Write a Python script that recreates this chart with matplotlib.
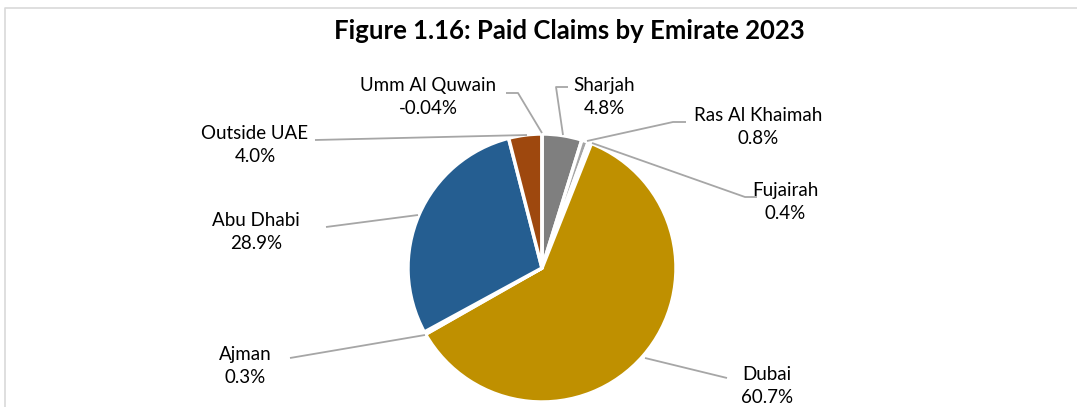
import matplotlib
matplotlib.use("Agg")
import matplotlib.pyplot as plt
import numpy as np

plt.rcParams['font.family'] = ['Lato', 'DejaVu Sans']

W, H = 1077, 407

title = "Figure 1.16: Paid Claims by Emirate 2023"
emirates = ["Sharjah", "Ras Al Khaimah", "Fujairah", "Dubai", "Ajman",
            "Abu Dhabi", "Outside UAE", "Umm Al Quwain"]
shares = [4.8, 0.8, 0.4, 60.7, 0.3, 28.9, 4.0, -0.04]
pct_labels = ["4.8%", "0.8%", "0.4%", "60.7%", "0.3%", "28.9%", "4.0%", "-0.04%"]
colors = ["#7F7F7F", "#A5A5A5", "#BDD7EE", "#BF9000", "#636363",
          "#255E91", "#9E480E", "#43682B"]

# label layout (pixel coords, y from top): text centre, leader polyline
label_pos = {
    "Sharjah": (604, 97, [(568, 87), (556, 87), (563, 135)]),
    "Ras Al Khaimah": (758, 127, [(686, 122), (673, 122), (587, 141)]),
    "Fujairah": (785, 202, [(757, 197), (745, 197), (592, 143)]),
    "Dubai": (767, 386, [(727, 378), (645, 358)]),
    "Ajman": (245, 366, [(290, 358), (425, 335)]),
    "Abu Dhabi": (256, 232, [(326, 227), (418, 215)]),
    "Outside UAE": (255, 145, [(315, 140), (527, 135)]),
    "Umm Al Quwain": (428, 97, [(506, 93), (518, 93), (542, 133)]),
}

fig = plt.figure(figsize=(W / 100, H / 100), dpi=100)
ax = fig.add_axes([0, 0, 1, 1])

def py(y):
    return H - y

vals = np.clip(np.array(shares), 0, None)
ax.pie(vals, colors=colors, startangle=90, counterclock=False,
       center=(542, py(268)), radius=134, explode=[0.025] * len(vals),
       wedgeprops=dict(edgecolor='white', linewidth=2.5), frame=True)
ax.set_xlim(0, W)
ax.set_ylim(0, H)
ax.set_aspect('equal')
ax.axis('off')

for name, pct in zip(emirates, pct_labels):
    tx, ty, line = label_pos[name]
    xs = [p[0] for p in line]
    ys = [py(p[1]) for p in line]
    ax.plot(xs, ys, color='#A6A6A6', lw=1.3, solid_capstyle='butt', zorder=1)
    ax.text(tx, py(ty), f"{name}\n{pct}", ha='center', va='center',
            fontsize=13.5, color='#000000', linespacing=1.38)

ax.text(569, py(31), title, ha='center', va='center', fontsize=18.5,
        fontweight='bold', color='#000000')

# chart area border
ax.plot([5, 5, W], [0, py(8), py(8)], color='#D9D9D9', lw=1.2)

fig.savefig("out.png", dpi=100)
